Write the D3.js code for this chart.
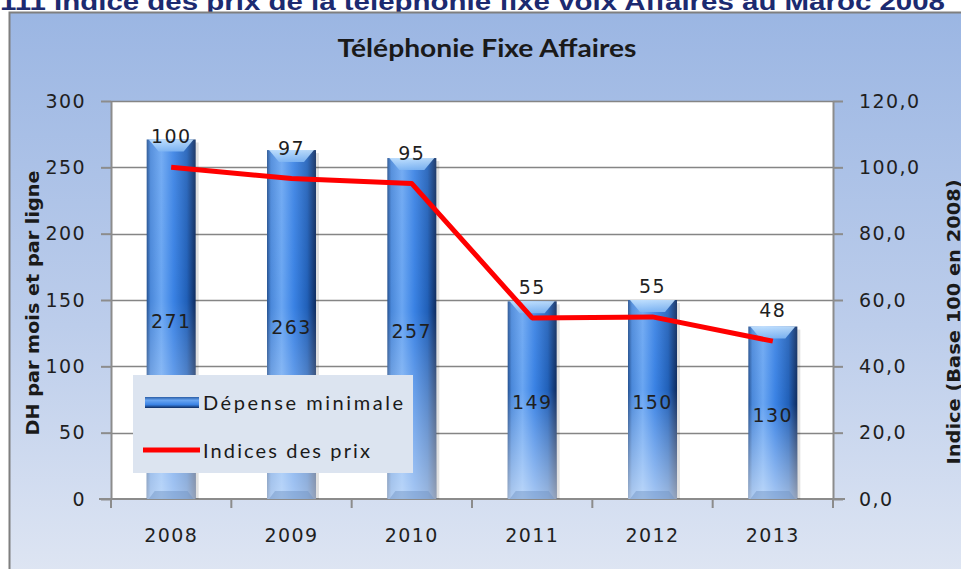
<!DOCTYPE html>
<html>
<head>
<meta charset="utf-8">
<script src="https://cdn.jsdelivr.net/npm/d3@7"></script>
<style>
  html, body { margin: 0; padding: 0; background: #fff; overflow: hidden; }
  svg { display: block; }
  text { fill: #1a1a1a; }
</style>
</head>
<body>
<svg id="chart" width="961" height="569"></svg>
<script>
/* ── Data ─────────────────────────────────────────────────────────────── */
const YEARS    = ['2008', '2009', '2010', '2011', '2012', '2013'];
const DEPENSE  = [271, 263, 257, 149, 150, 130];           // DH par mois et par ligne
const INDICES  = [100, 96.6, 95.1, 54.6, 54.9, 47.6];      // base 100 en 2008
const LEFT_TICKS  = [0, 50, 100, 150, 200, 250, 300];
const RIGHT_TICKS = [0, 20, 40, 60, 80, 100, 120];
const SERIES_NAMES = ['Dépense minimale', 'Indices des prix'];

/* ── Layout ───────────────────────────────────────────────────────────── */
const W = 961, H = 569;
const P = { l: 111, r: 833, t: 101, b: 499 };
const NUM_FONT = 'DejaVu Sans, Verdana, sans-serif';

const svg = d3.select('#chart');
const defs = svg.append('defs');

// background gradient of the chart frame
const bg = defs.append('linearGradient').attr('id', 'bg').attr('x1', 0).attr('y1', 0).attr('x2', 0).attr('y2', 1);
bg.append('stop').attr('offset', '0%').attr('stop-color', '#9bb6e3');
bg.append('stop').attr('offset', '55%').attr('stop-color', '#bccdeb');
bg.append('stop').attr('offset', '100%').attr('stop-color', '#dfe6f3');

// bar: horizontal cylinder shading
const gh = defs.append('linearGradient').attr('id', 'barH').attr('x1', 0).attr('y1', 0).attr('x2', 1).attr('y2', 0);
[['0%', '#24508f'], ['8%', '#4a88da'], ['30%', '#6aa6f2'], ['55%', '#3a82e4'], ['82%', '#2160b8'], ['100%', '#0e2b5e']]
  .forEach(([o, c]) => gh.append('stop').attr('offset', o).attr('stop-color', c));
// bar: lighter towards the bottom
const gv = defs.append('linearGradient').attr('id', 'barV').attr('x1', 0).attr('y1', 0).attr('x2', 0).attr('y2', 1);
gv.append('stop').attr('offset', '0%').attr('stop-color', '#ffffff').attr('stop-opacity', 0.08);
gv.append('stop').attr('offset', '45%').attr('stop-color', '#ffffff').attr('stop-opacity', 0);
gv.append('stop').attr('offset', '100%').attr('stop-color', '#ffffff').attr('stop-opacity', 0.55);
// bar caps
const gc = defs.append('linearGradient').attr('id', 'cap').attr('x1', 0).attr('y1', 0).attr('x2', 0).attr('y2', 1);
gc.append('stop').attr('offset', '0%').attr('stop-color', '#c6e4ff');
gc.append('stop').attr('offset', '100%').attr('stop-color', '#80b6f3');

// legend swatch (horizontal cylinder)
const gl = defs.append('linearGradient').attr('id', 'legSw').attr('x1', 0).attr('y1', 0).attr('x2', 0).attr('y2', 1);
[['0%', '#2a5da6'], ['30%', '#6aa6f2'], ['70%', '#3a82e4'], ['100%', '#0e2b5e']]
  .forEach(([o, c]) => gl.append('stop').attr('offset', o).attr('stop-color', c));

/* ── Page title (cut off at top) ──────────────────────────────────────── */
svg.append('text').attr('x', 0).attr('y', 10)
  .attr('font-family', 'Liberation Sans, Arial, sans-serif').attr('font-weight', 'bold').attr('font-size', 23)
  .style('fill', '#1c2a70')
  .attr('textLength', 945).attr('lengthAdjust', 'spacingAndGlyphs')
  .text('111 Indice des prix de la téléphonie fixe voix Affaires au Maroc 2008');

/* ── Chart frame ──────────────────────────────────────────────────────── */
svg.append('rect').attr('x', 9.5).attr('y', 12.5).attr('width', W).attr('height', H)
  .attr('fill', 'url(#bg)').attr('stroke', '#7f7f7f').attr('stroke-width', 2);

svg.append('text').attr('x', 487).attr('y', 57).attr('text-anchor', 'middle')
  .attr('font-family', 'Lato, sans-serif').attr('font-weight', 'bold').attr('font-size', 24)
  .attr('textLength', 299).attr('lengthAdjust', 'spacingAndGlyphs')
  .text('Téléphonie Fixe Affaires');

/* ── Scales ───────────────────────────────────────────────────────────── */
const x = d3.scaleBand().domain(YEARS).range([P.l, P.r]).paddingInner(0.593).paddingOuter(0.2965);
const yL = d3.scaleLinear().domain([0, 300]).range([P.b, P.t]);
const yR = d3.scaleLinear().domain([0, 120]).range([P.b, P.t]);

// plot area
svg.append('rect').attr('x', P.l).attr('y', P.t).attr('width', P.r - P.l).attr('height', P.b - P.t).attr('fill', '#fff');

// grid
svg.append('g').selectAll('line').data(LEFT_TICKS.slice(1)).join('line')
  .attr('x1', P.l).attr('x2', P.r)
  .attr('y1', d => Math.round(yL(d)) + 0.5).attr('y2', d => Math.round(yL(d)) + 0.5)
  .attr('stroke', '#858585').attr('stroke-width', 1.3);

/* ── Axes ─────────────────────────────────────────────────────────────── */
const numText = sel => sel.attr('font-family', NUM_FONT).attr('font-size', 19)
  .attr('letter-spacing', 1.4).style('fill', '#1f1f1f');
const axisStyle = g => {
  g.selectAll('path, line').attr('stroke', '#8c8c8c').attr('stroke-width', 2);
  g.selectAll('text').call(numText);
};

svg.append('g').attr('transform', `translate(${P.l},0)`)
  .call(d3.axisLeft(yL).tickValues(LEFT_TICKS).tickSize(10).tickSizeOuter(0).tickPadding(15).tickFormat(d3.format('d')))
  .call(axisStyle);

svg.append('g').attr('transform', `translate(${P.r},0)`)
  .call(d3.axisRight(yR).tickValues(RIGHT_TICKS).tickSize(10).tickSizeOuter(0).tickPadding(16)
    .tickFormat(d => d.toFixed(1).replace('.', ',')))
  .call(axisStyle);

// bottom axis: ticks on category boundaries
const xb = svg.append('g').attr('transform', `translate(0,${P.b})`);
xb.append('line').attr('x1', P.l - 12).attr('x2', P.r + 12).attr('y1', 0).attr('y2', 0).attr('stroke', '#8c8c8c').attr('stroke-width', 2);
const bounds = YEARS.map(d => x(d) - x.step() * x.paddingInner() / 2).concat([P.r]);
xb.selectAll('line.tk').data(bounds).join('line').attr('class', 'tk')
  .attr('x1', d => d).attr('x2', d => d).attr('y1', 0).attr('y2', 9)
  .attr('stroke', '#8c8c8c').attr('stroke-width', 2);
xb.selectAll('text').data(YEARS).join('text')
  .attr('x', d => x(d) + x.bandwidth() / 2).attr('y', 43).attr('text-anchor', 'middle')
  .call(numText)
  .text(d => d);

/* ── Axis titles ──────────────────────────────────────────────────────── */
svg.append('text').attr('transform', 'translate(39,303) rotate(-90)').attr('text-anchor', 'middle')
  .attr('font-family', 'DejaVu Sans, sans-serif').attr('font-weight', 'bold').attr('font-size', 18)
  .attr('textLength', 265).attr('lengthAdjust', 'spacingAndGlyphs')
  .text('DH par mois et par ligne');
svg.append('text').attr('transform', 'translate(960,322) rotate(-90)').attr('text-anchor', 'middle')
  .attr('font-family', 'DejaVu Sans, sans-serif').attr('font-weight', 'bold').attr('font-size', 18)
  .attr('textLength', 285).attr('lengthAdjust', 'spacingAndGlyphs')
  .text('Indice (Base 100 en 2008)');

/* ── Bars ─────────────────────────────────────────────────────────────── */
const bw = x.bandwidth();
const bars = svg.append('g').selectAll('g').data(YEARS.map((d, i) => ({ year: d, v: DEPENSE[i] }))).join('g');
bars.append('rect').attr('x', d => x(d.year) + 3).attr('y', d => yL(d.v) + 3)
  .attr('width', bw).attr('height', d => P.b - yL(d.v) - 3).attr('fill', '#000').attr('opacity', 0.12);
bars.append('rect').attr('x', d => x(d.year)).attr('y', d => yL(d.v))
  .attr('width', bw).attr('height', d => P.b - yL(d.v)).attr('fill', 'url(#barH)');
bars.append('rect').attr('x', d => x(d.year)).attr('y', d => yL(d.v))
  .attr('width', bw).attr('height', d => P.b - yL(d.v)).attr('fill', 'url(#barV)');
// top bevel
bars.append('path').attr('fill', 'url(#cap)').attr('opacity', 0.9)
  .attr('d', d => {
    const x0 = x(d.year), x1 = x0 + bw, t = yL(d.v);
    return `M${x0 + 2},${t} L${x1 - 2},${t} L${x1 - 12},${t + 12} L${x0 + 12},${t + 12} Z`;
  });
// bottom bevel
bars.append('path').attr('fill', '#6f93c4').attr('opacity', 0.45)
  .attr('d', d => {
    const x0 = x(d.year), x1 = x0 + bw, b = P.b;
    return `M${x0 + 8},${b - 8} L${x1 - 8},${b - 8} L${x1 - 2},${b} L${x0 + 2},${b} Z`;
  });
// value labels inside bars
bars.append('text').attr('x', d => x(d.year) + bw / 2).attr('y', d => (yL(d.v) + P.b) / 2 + 9)
  .attr('text-anchor', 'middle').call(numText)
  .text(d => d.v);

/* ── Line ─────────────────────────────────────────────────────────────── */
const pts = YEARS.map((d, i) => ({ year: d, v: INDICES[i] }));
svg.append('path').datum(pts)
  .attr('fill', 'none').attr('stroke', '#ff0000').attr('stroke-width', 5).attr('stroke-linejoin', 'round')
  .attr('d', d3.line().x(d => x(d.year) + bw / 2).y(d => yR(d.v)));
svg.append('g').selectAll('text').data(pts).join('text')
  .attr('x', d => x(d.year) + bw / 2).attr('y', d => yR(d.v) - 24).attr('text-anchor', 'middle')
  .call(numText)
  .text(d => d3.format('.0f')(d.v));

/* ── Legend ───────────────────────────────────────────────────────────── */
const leg = svg.append('g').attr('transform', 'translate(133,375)');
leg.append('rect').attr('width', 280).attr('height', 98).attr('fill', '#dce4f0');
leg.append('rect').attr('x', 12).attr('y', 22).attr('width', 54).attr('height', 11).attr('fill', 'url(#legSw)');
leg.append('line').attr('x1', 10).attr('x2', 67).attr('y1', 75).attr('y2', 75)
  .attr('stroke', '#ff0000').attr('stroke-width', 5);
const LEG_LEN = [200, 167];
leg.selectAll('text').data(SERIES_NAMES).join('text')
  .attr('x', 70).attr('y', (d, i) => 35 + i * 48)
  .attr('font-family', 'Lato, sans-serif').attr('font-size', 20)
  .attr('textLength', (d, i) => LEG_LEN[i]).attr('lengthAdjust', 'spacing')
  .text(d => d);
</script>
</body>
</html>
